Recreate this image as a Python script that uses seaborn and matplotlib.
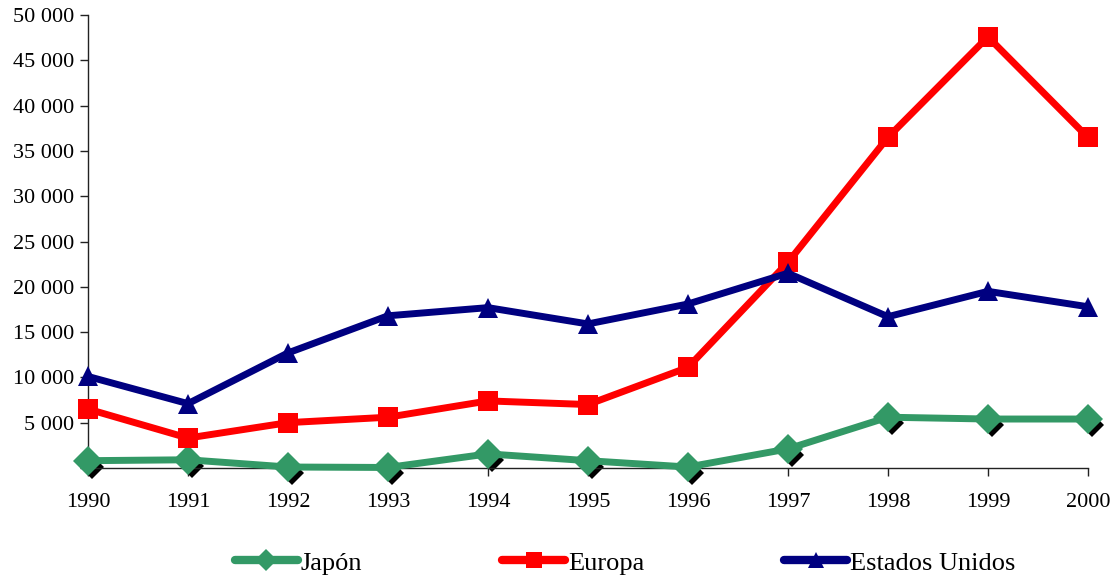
import matplotlib
matplotlib.use("Agg")
import matplotlib.pyplot as plt
import matplotlib.transforms as mtransforms
import numpy as np
import pandas as pd
import seaborn as sns

years = [1990, 1991, 1992, 1993, 1994, 1995, 1996, 1997, 1998, 1999, 2000]
japon = [800, 900, 100, 50, 1550, 800, 100, 2100, 5600, 5400, 5400]
europa = [6500, 3300, 5000, 5600, 7400, 7000, 11100, 22700, 36500, 47600, 36500]
estados_unidos = [10100, 7100, 12700, 16800, 17700, 15900, 18100, 21500, 16700, 19500, 17800]

series_names = ["Japón", "Europa", "Estados Unidos"]
colors = {"Japón": "#339966", "Europa": "#ff0000", "Estados Unidos": "#000080"}
markers = {"Japón": "D", "Europa": "s", "Estados Unidos": "^"}
y_ticks = list(range(0, 50001, 5000))

df = pd.DataFrame({
    "año": years * 3,
    "valor": japon + europa + estados_unidos,
    "serie": ["Japón"] * len(years) + ["Europa"] * len(years) + ["Estados Unidos"] * len(years),
})

sns.set_style("white")
plt.rcParams["font.family"] = ["Liberation Serif", "DejaVu Serif"]
plt.rcParams["text.color"] = "black"

fig = plt.figure(figsize=(11.11, 5.82), dpi=100)
ax = fig.add_axes([0.0792, 0.196, 0.9, 0.778])

# drop shadow under the Japan diamonds
shadow = mtransforms.offset_copy(ax.transData, fig=fig, x=4, y=-6, units="dots")
ax.plot(years, japon, linestyle="none", marker="D", markersize=12,
        color="black", markeredgewidth=0, transform=shadow, zorder=1, clip_on=False)

sns.lineplot(data=df, x="año", y="valor", hue="serie", style="serie",
             hue_order=series_names, style_order=series_names,
             palette=colors, markers=markers, dashes=False,
             linewidth=5, markersize=15, markeredgewidth=0,
             ax=ax, zorder=3, clip_on=False, legend=True)

for line in ax.lines:
    line.set_clip_on(False)

ax.set_xlim(1990, 2000)
ax.set_ylim(0, 50000)
ax.set_xticks(years)
ax.set_xticklabels([str(y) for y in years])
ax.set_yticks(y_ticks)
ax.set_yticklabels(["" if v == 0 else f"{v:,}".replace(",", " ") for v in y_ticks])
ax.set_xlabel("")
ax.set_ylabel("")

for side in ["top", "right"]:
    ax.spines[side].set_visible(False)
for side in ["left", "bottom"]:
    ax.spines[side].set_color("#222222")
    ax.spines[side].set_linewidth(1.0)

ax.tick_params(axis="y", direction="out", length=6, width=1, color="#222222",
               labelsize=16, labelcolor="black", pad=4, left=True)
ax.tick_params(axis="x", direction="out", length=6, width=1, color="#222222",
               labelsize=16, labelcolor="black", pad=12, bottom=True)

# move the series legend below the plot area
handles, labels = ax.get_legend_handles_labels()
ax.get_legend().remove()
for h in handles:
    h.set_markersize(11)
    h.set_linewidth(6)
    h.set_solid_capstyle("round")
leg = fig.legend(handles, labels, loc="center", bbox_to_anchor=(0.5626, 0.033),
                 ncol=3, frameon=False, fontsize=19, handlelength=2.4,
                 handletextpad=0.1, columnspacing=5.3, labelcolor="black")

fig.savefig("out.png", dpi=100)
